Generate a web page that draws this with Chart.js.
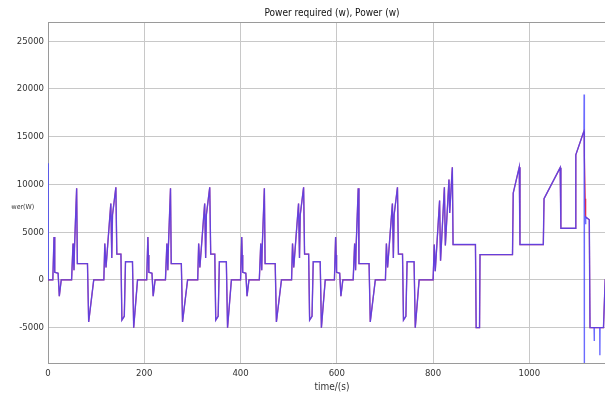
<!DOCTYPE html>
<html>
<head>
<meta charset="utf-8">
<title>Power required / Power</title>
<script src="https://cdn.jsdelivr.net/npm/chart.js@4.4.1/dist/chart.umd.min.js"></script>
<style>
  html, body { margin: 0; padding: 0; background: #fff; overflow: hidden; }
  #wrap { width: 640px; height: 399px; position: relative; }
</style>
</head>
<body>
<div id="wrap"><canvas id="powerChart"></canvas></div>
<script>
// time axis (s), shared by both traces
const timeS = [
  // urban cycle 1
  0, 0.5, 10, 12.5, 13.5, 14.5, 21, 23.5, 27.5, 49, 52, 54, 55, 59.5, 61, 82, 84.5, 95, 116, 118, 120.5, 130.5, 132.5, 134, 141, 143, 151.5, 153.5, 158.5, 161, 175.5, 178, 186,
  // urban cycle 2
  205, 207.5, 208.5, 209.5, 216, 218.5, 222.5, 244, 247, 249, 250, 254.5, 256, 277, 279.5, 290, 311, 313, 315.5, 325.5, 327.5, 329, 336, 338, 346.5, 348.5, 353.5, 356, 370.5, 373, 381,
  // urban cycle 3
  400, 402.5, 403.5, 404.5, 411, 413.5, 417.5, 439, 442, 444, 445, 449.5, 451, 472, 474.5, 485, 506, 508, 510.5, 520.5, 522.5, 524, 531, 533, 541.5, 543.5, 548.5, 551, 565.5, 568, 576,
  // urban cycle 4
  595, 597.5, 598.5, 599.5, 606, 608.5, 612.5, 634, 637, 639, 640, 644.5, 646, 667, 669.5, 680, 701, 703, 705.5, 715.5, 717.5, 719, 726, 728, 736.5, 738.5, 743.5, 746, 760.5, 763, 771,
  // extra urban part
  800, 802.5, 804.5, 813.5, 815.5, 823.5, 825.5, 833, 834.5, 840, 841.5,
  888, 889.5, 896.5, 897.5,
  965, 966.5, 979, 980.5,
  1029, 1030.5, 1064, 1065.5,
  1095, 1096.5, 1113.5, 1113.8, 1114.1, 1114.5, 1116, 1117,
  1124.5, 1126,
  1134.5, 1134.8, 1135.1,
  1146.2, 1146.5, 1146.8,
  1154, 1157.5, 1180
];

// red trace (W)
const powerRequired = [
  0, 0, 0, 4500, 2600, 800, 700, -1700, 0, 0, 3800, 1000, 3300, 9600, 1700, 1700, -4400, 0, 0, 3800, 1300, 8000, 2300, 6800, 9700, 2700, 2700, -4200, -3800, 1900, 1900, -5000, 0,
  0, 4500, 2600, 800, 700, -1700, 0, 0, 3800, 1000, 3300, 9600, 1700, 1700, -4400, 0, 0, 3800, 1300, 8000, 2300, 6800, 9700, 2700, 2700, -4200, -3800, 1900, 1900, -5000, 0,
  0, 4500, 2600, 800, 700, -1700, 0, 0, 3800, 1000, 3300, 9600, 1700, 1700, -4400, 0, 0, 3800, 1300, 8000, 2300, 6800, 9700, 2700, 2700, -4200, -3800, 1900, 1900, -5000, 0,
  0, 4500, 2600, 800, 700, -1700, 0, 0, 3800, 1000, 3300, 9600, 1700, 1700, -4400, 0, 0, 3800, 1300, 8000, 2300, 6800, 9700, 2700, 2700, -4200, -3800, 1900, 1900, -5000, 0,
  0, 3700, 900, 8300, 2000, 9700, 3600, 10500, 7000, 11800, 3700,
  3700, -5000, -5000, 2650,
  2650, 9100, 11800, 3700,
  3700, 8500, 11750, 5400,
  5400, 13100, 15600, 15500, 14500, 13000, 8500, 6600,
  6300, -5000,
  -5000, -5000, -5000,
  -5000, -5000, -5000,
  -5000, 0, 0
];

// blue trace (W)
const power = [
  12200, 0, 0, 4500, 2600, 800, 700, -1700, 0, 0, 3800, 1000, 3300, 9600, 1700, 1700, -4400, 0, 0, 3800, 1300, 8000, 2300, 6800, 9700, 2700, 2700, -4200, -3800, 1900, 1900, -5000, 0,
  0, 4500, 2600, 800, 700, -1700, 0, 0, 3800, 1000, 3300, 9600, 1700, 1700, -4400, 0, 0, 3800, 1300, 8000, 2300, 6800, 9700, 2700, 2700, -4200, -3800, 1900, 1900, -5000, 0,
  0, 4500, 2600, 800, 700, -1700, 0, 0, 3800, 1000, 3300, 9600, 1700, 1700, -4400, 0, 0, 3800, 1300, 8000, 2300, 6800, 9700, 2700, 2700, -4200, -3800, 1900, 1900, -5000, 0,
  0, 4500, 2600, 800, 700, -1700, 0, 0, 3800, 1000, 3300, 9600, 1700, 1700, -4400, 0, 0, 3800, 1300, 8000, 2300, 6800, 9700, 2700, 2700, -4200, -3800, 1900, 1900, -5000, 0,
  0, 3700, 900, 8300, 2000, 9700, 3600, 10500, 7000, 11800, 3700,
  3700, -5000, -5000, 2650,
  2650, 9100, 11800, 3700,
  3700, 8500, 11750, 5400,
  5400, 13100, 15600, 19400, -9500, 6600, 5900, 6600,
  6300, -5000,
  -5000, -6400, -5000,
  -5000, -7900, -5000,
  -5000, 0, 0
];

const xTicks = [0, 200, 400, 600, 800, 1000];
const yTicks = [-5000, 0, 5000, 10000, 15000, 20000, 25000];
const chartTitle = 'Power required (w), Power (w)';
const xLabel = 'time/(s)';
const yLabel = 'Power(W)';

const narrow = '"Liberation Sans Narrow", "Arial Narrow", "DejaVu Sans Condensed", sans-serif';
const gridColor = '#c8c8c8';
const axisColor = '#9a9a9a';

const toPoints = (vals) => timeS.map((t, i) => ({ x: t, y: vals[i] }));

// top border of the box + the y label, whose first letters are cut off in the original
const boxAndLabel = {
  id: 'boxAndLabel',
  afterDraw(chart) {
    const { ctx, chartArea } = chart;
    ctx.save();
    ctx.strokeStyle = axisColor;
    ctx.lineWidth = 1;
    ctx.beginPath();
    ctx.moveTo(chartArea.left, Math.round(chartArea.top) + 0.5);
    ctx.lineTo(chartArea.right, Math.round(chartArea.top) + 0.5);
    ctx.stroke();

    ctx.font = '7px ' + narrow;
    ctx.fillStyle = '#333';
    ctx.textBaseline = 'middle';
    const cut = ctx.measureText('Po').width;
    ctx.beginPath();
    ctx.rect(11, 195, 30, 25);
    ctx.clip();
    ctx.fillText(yLabel, 11.5 - cut, 207);
    ctx.restore();
  }
};

new Chart(document.getElementById('powerChart'), {
  type: 'line',
  data: {
    datasets: [
      {
        label: 'Power (w)',
        data: toPoints(power),
        borderColor: 'rgba(70, 70, 255, 0.8)',
        borderWidth: 1.4,
        pointRadius: 0,
        tension: 0
      },
      {
        label: 'Power required (w)',
        data: toPoints(powerRequired),
        borderColor: 'rgba(225, 0, 45, 0.85)',
        borderWidth: 1.2,
        pointRadius: 0,
        tension: 0
      }
    ]
  },
  options: {
    responsive: true,
    maintainAspectRatio: false,
    animation: false,
    layout: { padding: { left: 0, right: 24, top: 0, bottom: 0 } },
    plugins: {
      legend: { display: false },
      tooltip: { enabled: false },
      title: {
        display: true,
        text: chartTitle,
        fullSize: false,
        color: '#111',
        font: { family: narrow, size: 10, weight: 'normal', lineHeight: 1.2 },
        padding: { top: 7, bottom: 3 }
      }
    },
    scales: {
      x: {
        type: 'linear',
        min: 0,
        max: 1180,
        afterBuildTicks: (scale) => { scale.ticks = xTicks.map(v => ({ value: v })); },
        afterFit: (scale) => { scale.height = 36; },
        ticks: {
          callback: (v) => String(v),
          color: '#333',
          padding: 5,
          maxRotation: 0,
          font: { family: narrow, size: 9.5 }
        },
        grid: { color: gridColor, drawTicks: false },
        border: { color: axisColor, width: 1 },
        title: {
          display: true,
          text: xLabel,
          color: '#333',
          font: { family: narrow, size: 10, lineHeight: 1.2 },
          padding: { top: 0, bottom: 6 }
        }
      },
      y: {
        min: -8700,
        max: 27000,
        afterBuildTicks: (scale) => { scale.ticks = yTicks.map(v => ({ value: v })); },
        afterFit: (scale) => { scale.width = 48; },
        ticks: {
          callback: (v) => String(v),
          color: '#333',
          padding: 4,
          font: { family: narrow, size: 9.5 }
        },
        grid: { color: gridColor, drawTicks: false },
        border: { color: axisColor, width: 1 }
      }
    }
  },
  plugins: [boxAndLabel]
});
</script>
</body>
</html>
